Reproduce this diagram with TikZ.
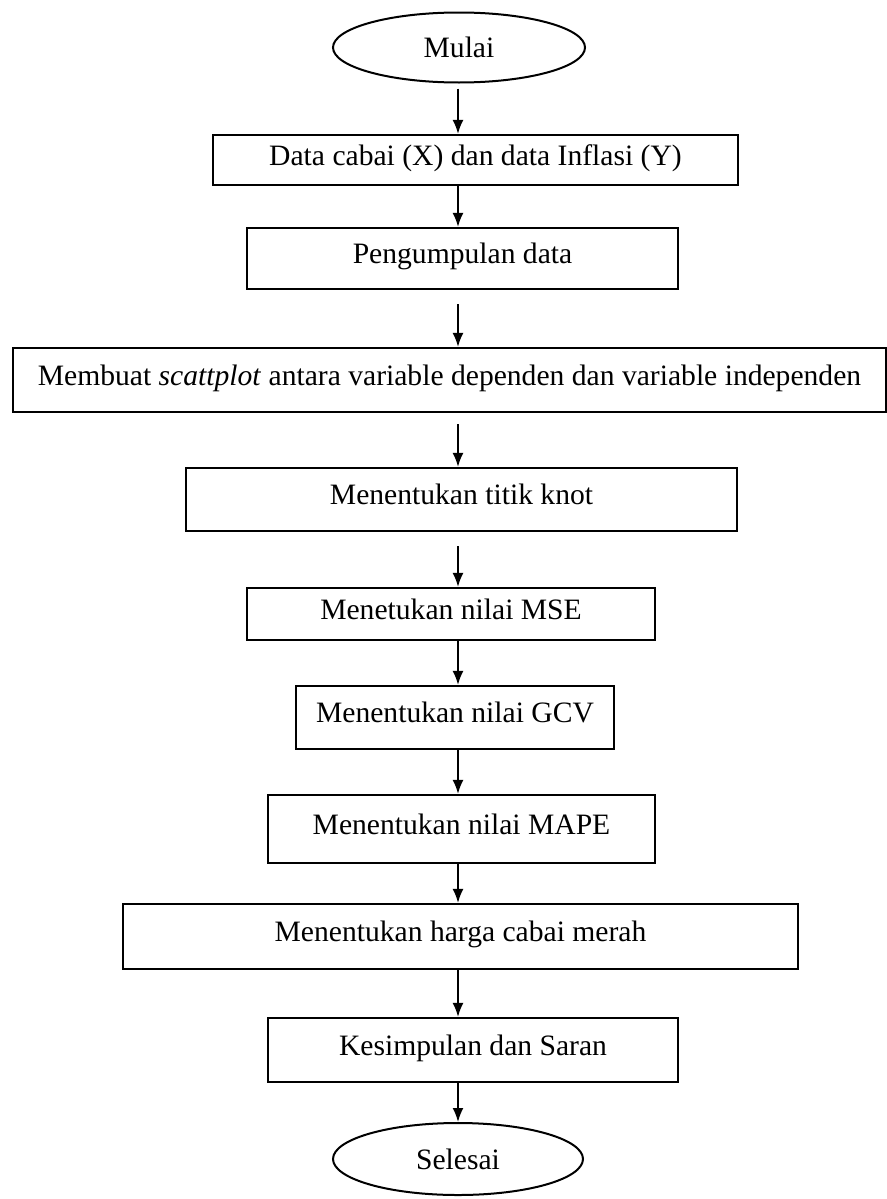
\documentclass[tikz,border=0pt]{standalone}
\usepackage{fontspec}
\setmainfont{Liberation Serif}
\usetikzlibrary{shapes.geometric,arrows.meta}

\begin{document}
\begin{tikzpicture}[x=0.5pt,y=-0.5pt,
        proses/.style={draw,line width=1.1pt,inner sep=0pt,text depth=5pt},
        terminal/.style={draw,ellipse,line width=1pt,inner sep=0pt,minimum width=126pt,minimum height=35pt},
        panah/.style={-{Latex[length=7pt,width=5.5pt]},line width=0.9pt}]
        \fontsize{14.8}{17}\selectfont
        \useasboundingbox (0,0) rectangle (887,1199);
        \coordinate (Poros) at (458,0);

        \node[terminal](Mulai) at (459,47.5) {Mulai};
        \node[proses,minimum width=262.5pt,minimum height=25pt](Data cabai) at (475.5,160) {Data cabai (X) dan data Inflasi (Y)};
        \node[proses,minimum width=215.5pt,minimum height=30.5pt](Pengumpulan data) at (462.5,258.5) {Pengumpulan data};
        \node[proses,minimum width=436.5pt,minimum height=32pt](Scattplot) at (449.5,380) {Membuat \textit{scattplot} antara variable dependen dan variable independen};
        \node[proses,minimum width=275.5pt,minimum height=31.5pt](Titik knot) at (461.5,499.5) {Menentukan titik knot};
        \node[proses,minimum width=204pt,minimum height=26pt](MSE) at (451,614) {Menetukan nilai MSE};
        \node[proses,minimum width=159pt,minimum height=31.5pt](GCV) at (455,717.5) {Menentukan nilai GCV};
        \node[proses,minimum width=193.5pt,minimum height=34pt](MAPE) at (461.5,829) {Menentukan nilai MAPE};
        \node[proses,minimum width=337.5pt,minimum height=32.5pt](Harga cabai) at (460.5,936.5) {Menentukan harga cabai merah};
        \node[proses,minimum width=205pt,minimum height=32pt](Kesimpulan) at (473,1050) {Kesimpulan dan Saran};
        \node[terminal,minimum width=125pt,minimum height=36pt](Selesai) at (458,1159) {Selesai};

        \draw[panah,shorten <=2.5pt] (Mulai.south -| Poros) -- (Data cabai.north -| Poros);
        \draw[panah] (Data cabai.south -| Poros) -- (Pengumpulan data.north -| Poros);
        \draw[panah,shorten <=7pt] (Pengumpulan data.south -| Poros) -- (Scattplot.north -| Poros);
        \draw[panah,shorten <=5.5pt] (Scattplot.south -| Poros) -- (Titik knot.north -| Poros);
        \draw[panah,shorten <=7pt] (Titik knot.south -| Poros) -- (MSE.north -| Poros);
        \draw[panah] (MSE.south -| Poros) -- (GCV.north -| Poros);
        \draw[panah] (GCV.south -| Poros) -- (MAPE.north -| Poros);
        \draw[panah] (MAPE.south -| Poros) -- (Harga cabai.north -| Poros);
        \draw[panah] (Harga cabai.south -| Poros) -- (Kesimpulan.north -| Poros);
        \draw[panah] (Kesimpulan.south -| Poros) -- (Selesai.north -| Poros);
\end{tikzpicture}
\end{document}
